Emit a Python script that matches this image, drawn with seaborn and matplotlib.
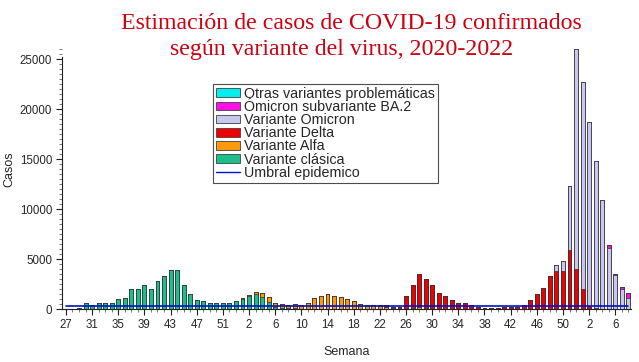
import matplotlib
matplotlib.use("Agg")
import matplotlib.pyplot as plt
from matplotlib.patches import Patch
from matplotlib.lines import Line2D
from matplotlib.ticker import MultipleLocator
import numpy as np
import seaborn as sns

# Semanas: 2020 (27-53), 2021 (1-52), 2022 (1-8)
semanas = list(range(27, 54)) + list(range(1, 53)) + list(range(1, 9))

# casos por semana y variante
clasica_2020 = [0, 50, 150, 600, 400, 600, 650, 650, 1050, 1100, 2000, 2000, 2450, 2000,
                2850, 3350, 3900, 3900, 2400, 1500, 950, 800, 600, 600, 600, 600, 800]
clasica_2021 = [1000, 1300, 1500, 1250, 750, 200, 100, 80, 60, 50, 30]  # sem 1-11
alfa_2020 = [0] * 26 + [50]
alfa_2021 = [100, 150, 250, 350, 450, 400, 400, 320, 440, 350, 570, 1100, 1300, 1550, 1300,
             1200, 1000, 800, 500, 400, 450, 350, 250, 100, 50, 100, 100, 250, 100, 50]  # sem 1-30
delta_2021 = [100, 150, 150, 200, 1250, 2300, 3300, 2900, 2350, 1650, 1330, 950, 600, 600,
              400, 200, 100, 100, 100, 200, 200, 250, 450, 900, 1500, 2150, 3330, 3800, 3800,
              5870, 4030]  # sem 22-52
delta_2022 = [1970, 300, 100, 50, 0, 0, 0, 0]
omicron_2021 = [630, 1000, 6400, 22010]  # sem 49-52
omicron_2022 = [20730, 18400, 14740, 10890, 6150, 3400, 2050, 1150]
ba2_2022 = [0, 0, 0, 0, 250, 70, 120, 420]
umbral = 280

n = len(semanas)
clasica = clasica_2020 + clasica_2021 + [0] * (52 - len(clasica_2021) + 8)
alfa = alfa_2020 + alfa_2021 + [0] * (52 - len(alfa_2021) + 8)
delta = [0] * (27 + 21) + delta_2021 + delta_2022
omicron = [0] * (27 + 48) + omicron_2021 + omicron_2022
ba2 = [0] * (27 + 52) + ba2_2022
otras = [0] * n

series = [
    ("Variante clásica", clasica, "#19C08E"),
    ("Variante Alfa", alfa, "#FF9A0A"),
    ("Variante Delta", delta, "#EE0000"),
    ("Variante Omicron", omicron, "#C8C8EE"),
    ("Ómicron subvariante BA.2", ba2, "#FF10E8"),
    ("Otras variantes problemáticas", otras, "#00F0F0"),
]

sns.set_theme(style="white")
plt.rcParams["font.family"] = ["Liberation Sans", "DejaVu Sans"]

fig = plt.figure(figsize=(6.39, 3.62), dpi=100)
ax = fig.add_axes([62 / 639, 1 - 309 / 362, (631 - 62) / 639, 262 / 362])

idx = np.arange(n)
cum = np.cumsum(np.array([s[1] for s in series], dtype=float), axis=0)

# capas acumuladas, de la mas alta a la mas baja
for k in range(len(series) - 1, -1, -1):
    sns.barplot(x=idx, y=cum[k], color=series[k][2], saturation=1, width=0.6,
                edgecolor="#303030", linewidth=0.5, errorbar=None, ax=ax)

ax.plot([0, n - 1], [umbral, umbral], color="#0010CC", lw=1.2)

ax.set_xlim(-0.6, n - 0.6)
ax.set_ylim(0, 26200)
ax.spines["left"].set_bounds(0, 25200)
for s in ["top", "right"]:
    ax.spines[s].set_visible(False)
for s in ["left", "bottom"]:
    ax.spines[s].set_color("#202020")
    ax.spines[s].set_linewidth(0.8)

ax.set_xticks(idx[::4])
ax.set_xticklabels([str(semanas[i]) for i in idx[::4]])
ax.xaxis.set_minor_locator(MultipleLocator(1))
ax.set_yticks(range(0, 25001, 5000))
ax.yaxis.set_minor_locator(MultipleLocator(500))
ax.tick_params(axis="both", which="major", direction="out", length=4, width=0.8,
               color="#202020", labelsize=8.3, pad=3, bottom=True, left=True)
ax.tick_params(axis="both", which="minor", direction="out", length=2.5, width=0.6,
               color="#606060", bottom=True, left=True)

ax.set_xlabel("Semana", fontsize=9, labelpad=11)
ax.set_ylabel("Casos", fontsize=9)
ax.yaxis.set_label_coords(-0.082, 0.534)

fig.text(351 / 639, 1 - 29 / 362, "Estimación de casos de COVID-19 confirmados",
         family=["Liberation Serif"], fontsize=17.2, color="#CC0010", ha="center", va="baseline")
fig.text(342 / 639, 1 - 55 / 362, "según variante del virus, 2020-2022",
         family=["Liberation Serif"], fontsize=17.2, color="#CC0010", ha="center", va="baseline")

handles = [Patch(facecolor=c, edgecolor="#404040", linewidth=0.6) for _, _, c in series[::-1]]
handles.append(Line2D([], [], color="#0010CC", lw=1))
labels = [name for name, _, _ in series[::-1]] + ["Umbral epidemico"]
leg = fig.legend(handles, labels, loc="upper left", bbox_to_anchor=(213 / 639, 1 - 84 / 362),
                 bbox_transform=fig.transFigure, fontsize=10.3, frameon=True, fancybox=False,
                 handlelength=1.7, handleheight=0.55, handletextpad=0.3, labelspacing=-0.06,
                 borderpad=0.2, borderaxespad=0)
leg.get_frame().set_edgecolor("#202020")
leg.get_frame().set_linewidth(0.8)

fig.savefig("out.png", dpi=100)
